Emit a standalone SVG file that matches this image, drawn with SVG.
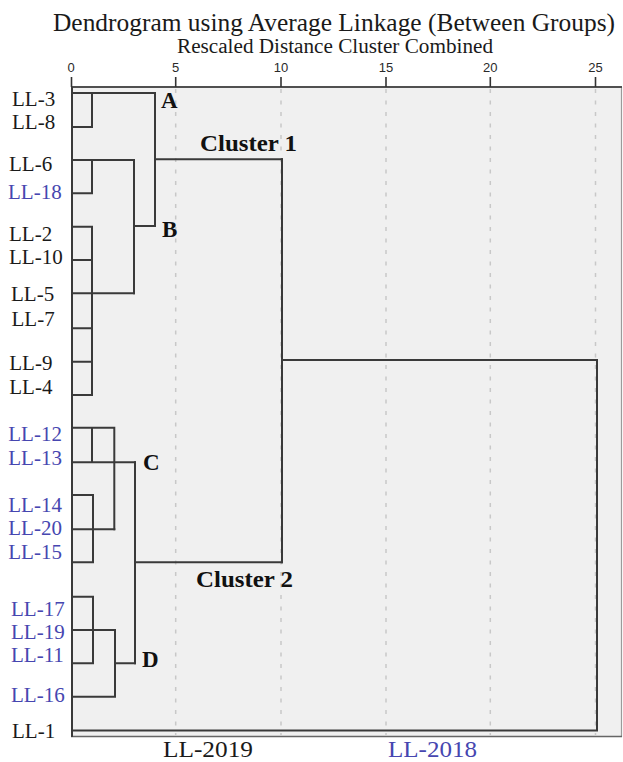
<svg xmlns="http://www.w3.org/2000/svg" width="623" height="762" viewBox="0 0 623 762">
<style>
.t{font-family:"Liberation Serif","Times New Roman",serif;fill:#1a1a1a}
.lbl{font-family:"Liberation Serif","Times New Roman",serif;font-size:21px;fill:#1a1a1a}
.blue{fill:#4646b0}
.bold{font-family:"Liberation Serif","Times New Roman",serif;font-weight:bold;fill:#111}
.tick{font-family:"Liberation Sans",Arial,sans-serif;font-size:13px;fill:#2a2a2a;text-anchor:middle}
.grid{stroke:#c8c8c8;stroke-width:1.5;stroke-dasharray:4 7.5;fill:none}
.ln{stroke:#3a3a3a;stroke-width:2;fill:none;stroke-linecap:square}
</style>
<rect x="0" y="0" width="623" height="762" fill="#ffffff"/>
<g id="title">
<text class="t" x="53" y="30.5" font-size="25" textLength="562" lengthAdjust="spacingAndGlyphs">Dendrogram using Average Linkage (Between Groups)</text>
<text class="t" x="177" y="52.5" font-size="20" textLength="316" lengthAdjust="spacingAndGlyphs">Rescaled Distance Cluster Combined</text>
</g>
<g id="axis">
<rect x="71" y="87" width="551" height="650" fill="#f0f0f0"/>
<line x1="621.5" y1="87" x2="621.5" y2="737" stroke="#9a9a9a" stroke-width="1.2"/>
<line x1="71" y1="736.5" x2="622" y2="736.5" stroke="#666" stroke-width="1.5"/>
<line class="grid" x1="175.7" y1="89" x2="175.7" y2="735"/>
<line class="grid" x1="281" y1="89" x2="281" y2="735"/>
<line class="grid" x1="386" y1="89" x2="386" y2="735"/>
<line class="grid" x1="490.3" y1="89" x2="490.3" y2="735"/>
<line class="grid" x1="595.5" y1="89" x2="595.5" y2="735"/>
<line x1="71" y1="87" x2="622" y2="87" stroke="#505050" stroke-width="2"/>
<g stroke="#333" stroke-width="1.6">
<line x1="71.5" y1="77" x2="71.5" y2="87"/>
<line x1="175.7" y1="77" x2="175.7" y2="87"/>
<line x1="281" y1="77" x2="281" y2="87"/>
<line x1="386" y1="77" x2="386" y2="87"/>
<line x1="490.3" y1="77" x2="490.3" y2="87"/>
<line x1="595.5" y1="77" x2="595.5" y2="87"/>
</g>
<text class="tick" x="71" y="72">0</text>
<text class="tick" x="175.7" y="72">5</text>
<text class="tick" x="281" y="72">10</text>
<text class="tick" x="386" y="72">15</text>
<text class="tick" x="490.3" y="72">20</text>
<text class="tick" x="595.5" y="72">25</text>
</g>
<g id="connectors">
<line x1="72" y1="87" x2="72" y2="737" stroke="#3a3a3a" stroke-width="2"/>
<path class="ln" d="M72 93H155M72 127H92M92 93V127"/>
<path class="ln" d="M72 160H134M72 193.3H92M92 160V193.3M134 160V293.3"/>
<path class="ln" d="M72 226.7H92M72 260H92M72 293.3H134M92 226.7V395M72 328.3H92M72 361.7H92M72 395H92"/>
<path class="ln" d="M134 226H155M155 93V226M155 159.3H282"/>
<path class="ln" d="M72 427.7H114.3M72 462.3H135M92 427.7V462.3M114.3 427.7V529.3"/>
<path class="ln" d="M72 495H93M72 529.3H114.3M72 562.3H93M93 495V562.3"/>
<path class="ln" d="M135 462.3V663.3M135 562.3H282"/>
<path class="ln" d="M72 596.7H93M72 630H115M93 596.7V663.3M72 663.3H93M72 696.7H115M115 630V696.7M115 663.3H135"/>
<path class="ln" d="M282 159.3V562.3M282 360H597M597 360V730.5M72 730.5H597"/>
</g>
<g id="leaves">
<text class="lbl" x="12" y="106">LL-3</text>
<text class="lbl" x="12" y="129.3">LL-8</text>
<text class="lbl" x="9" y="170.7">LL-6</text>
<text class="lbl blue" x="8" y="199">LL-18</text>
<text class="lbl" x="9" y="240.7">LL-2</text>
<text class="lbl" x="9" y="264.3">LL-10</text>
<text class="lbl" x="11" y="300.7">LL-5</text>
<text class="lbl" x="11.5" y="326">LL-7</text>
<text class="lbl" x="9.3" y="370">LL-9</text>
<text class="lbl" x="9.3" y="394">LL-4</text>
<text class="lbl blue" x="8.3" y="440.7">LL-12</text>
<text class="lbl blue" x="8.3" y="464.7">LL-13</text>
<text class="lbl blue" x="8.3" y="512">LL-14</text>
<text class="lbl blue" x="8.3" y="535">LL-20</text>
<text class="lbl blue" x="8.3" y="558.5">LL-15</text>
<text class="lbl blue" x="11" y="615.5">LL-17</text>
<text class="lbl blue" x="11" y="638.5">LL-19</text>
<text class="lbl blue" x="11" y="661.5">LL-11</text>
<text class="lbl blue" x="11" y="702.3">LL-16</text>
<text class="lbl" x="12" y="738.3">LL-1</text>
</g>
<g id="cluster-labels">
<text class="bold" x="161" y="108.3" font-size="23">A</text>
<text class="bold" x="162" y="236.7" font-size="23">B</text>
<text class="bold" x="143" y="470" font-size="23">C</text>
<text class="bold" x="142" y="666.7" font-size="23">D</text>
<text class="bold" x="200" y="150.7" font-size="24" textLength="97" lengthAdjust="spacingAndGlyphs">Cluster 1</text>
<text class="bold" x="196" y="586.7" font-size="24" textLength="97" lengthAdjust="spacingAndGlyphs">Cluster 2</text>
</g>
<g id="legend">
<text class="t" x="163" y="757" font-size="24" textLength="90" lengthAdjust="spacingAndGlyphs">LL-2019</text>
<text class="t blue" x="388" y="757" font-size="24" textLength="89" lengthAdjust="spacingAndGlyphs">LL-2018</text>
</g>
</svg>
